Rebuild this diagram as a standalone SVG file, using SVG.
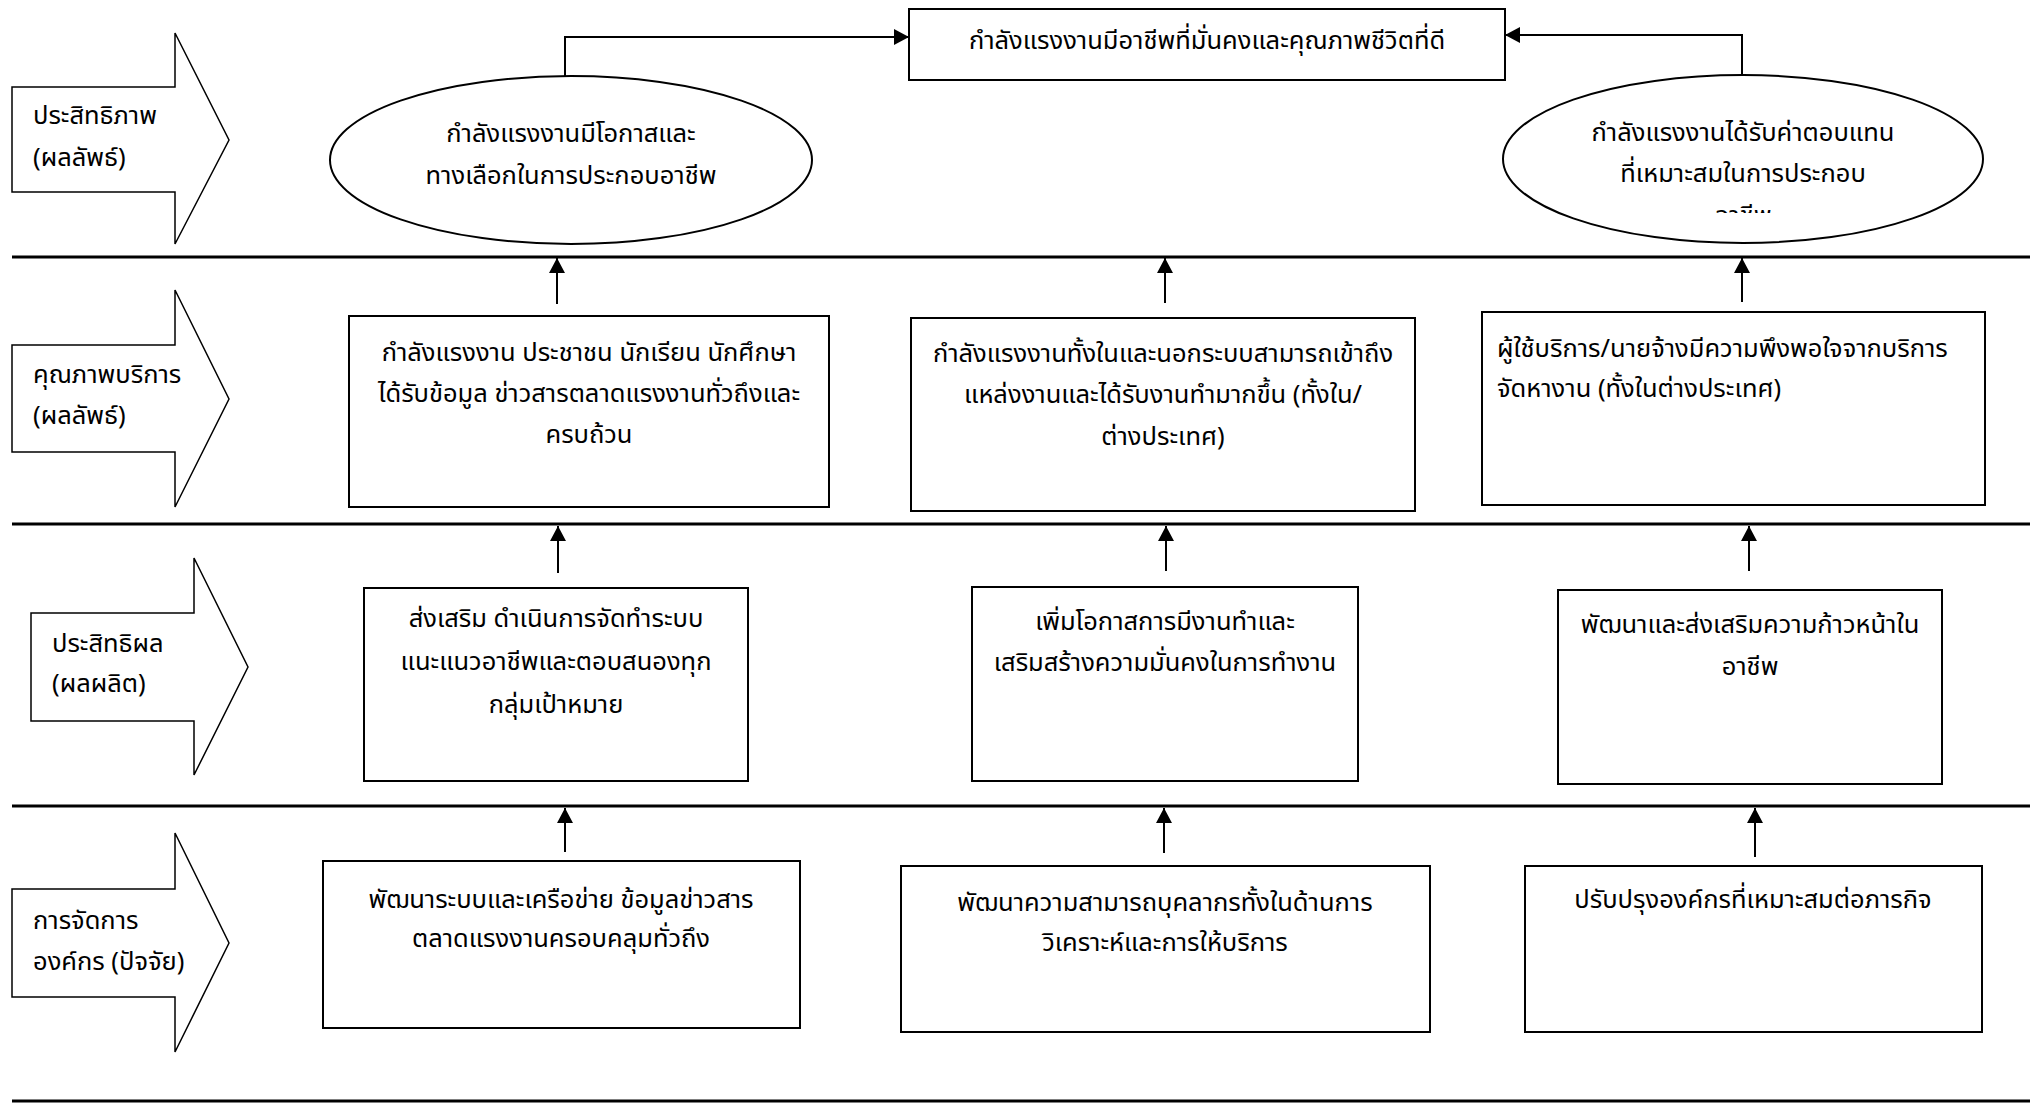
<svg xmlns="http://www.w3.org/2000/svg" width="2044" height="1104" viewBox="0 0 2044 1104">
<style>
  text { font-family: "Noto Sans Thai", "Noto Sans", "DejaVu Sans", sans-serif; font-size: 25.5px; fill: #000; }
  .c { text-anchor: middle; }
  .box { fill: #fff; stroke: #000; stroke-width: 2; }
  .blk { fill: #fff; stroke: #000; stroke-width: 1.5; }
  .sep { stroke: #000; stroke-width: 3; fill: none; }
  .con { stroke: #000; stroke-width: 2; fill: none; }
</style>
<defs>
  <marker id="ah" markerWidth="16" markerHeight="16" refX="15" refY="8" orient="auto" markerUnits="userSpaceOnUse">
    <path d="M0,0 L15,8 L0,16 z" fill="#000"/>
  </marker>
  <clipPath id="cut"><rect x="1680" y="195" width="130" height="18"/></clipPath>
</defs>
<rect width="2044" height="1104" fill="#fff"/>

<g id="separators">
  <line class="sep" x1="12" y1="257" x2="2030" y2="257"/>
  <line class="sep" x1="12" y1="524" x2="2030" y2="524"/>
  <line class="sep" x1="12" y1="806" x2="2030" y2="806"/>
  <line class="sep" x1="12" y1="1101" x2="2030" y2="1101"/>
</g>

<g id="label-efficiency">
  <path class="blk" d="M12,87 L175,87 L175,33 L229,140 L175,244 L175,192 L12,192 Z"/>
  <text x="33" y="124">ประสิทธิภาพ</text>
  <text x="33" y="166">(ผลลัพธ์)</text>
</g>
<g id="label-quality">
  <path class="blk" d="M12,345 L175,345 L175,290 L229,399 L175,507 L175,452 L12,452 Z"/>
  <text x="33" y="383">คุณภาพบริการ</text>
  <text x="33" y="424">(ผลลัพธ์)</text>
</g>
<g id="label-effectiveness">
  <path class="blk" d="M31,613 L194,613 L194,558 L248,667 L194,775 L194,721 L31,721 Z"/>
  <text x="52" y="652">ประสิทธิผล</text>
  <text x="52" y="692">(ผลผลิต)</text>
</g>
<g id="label-management">
  <path class="blk" d="M12,889 L175,889 L175,833 L229,943 L175,1052 L175,997 L12,997 Z"/>
  <text x="33" y="929">การจัดการ</text>
  <text x="33" y="970">องค์กร (ปัจจัย)</text>
</g>

<g id="goal">
  <rect class="box" x="909" y="9" width="596" height="71"/>
  <text class="c" x="1207" y="49">กำลังแรงงานมีอาชีพที่มั่นคงและคุณภาพชีวิตที่ดี</text>
</g>
<g id="outcome-opportunity">
  <ellipse class="box" cx="571" cy="160" rx="241" ry="84"/>
  <text class="c" x="571" y="142">กำลังแรงงานมีโอกาสและ</text>
  <text class="c" x="571" y="184">ทางเลือกในการประกอบอาชีพ</text>
</g>
<g id="outcome-compensation">
  <ellipse class="box" cx="1743" cy="159" rx="240" ry="84"/>
  <text class="c" x="1743" y="141">กำลังแรงงานได้รับค่าตอบแทน</text>
  <text class="c" x="1743" y="182">ที่เหมาะสมในการประกอบ</text>
  <text class="c" x="1743" y="224" clip-path="url(#cut)">อาชีพ</text>
</g>

<g id="quality-info">
  <rect class="box" x="349" y="316" width="480" height="191"/>
  <text class="c" x="589" y="361">กำลังแรงงาน ประชาชน นักเรียน นักศึกษา</text>
  <text class="c" x="589" y="402">ได้รับข้อมูล ข่าวสารตลาดแรงงานทั่วถึงและ</text>
  <text class="c" x="589" y="443">ครบถ้วน</text>
</g>
<g id="quality-access">
  <rect class="box" x="911" y="318" width="504" height="193"/>
  <text class="c" x="1163" y="362">กำลังแรงงานทั้งในและนอกระบบสามารถเข้าถึง</text>
  <text class="c" x="1163" y="403">แหล่งงานและได้รับงานทำมากขึ้น (ทั้งใน/</text>
  <text class="c" x="1163" y="445">ต่างประเทศ)</text>
</g>
<g id="quality-satisfaction">
  <rect class="box" x="1482" y="312" width="503" height="193"/>
  <text x="1497" y="357">ผู้ใช้บริการ/นายจ้างมีความพึงพอใจจากบริการ</text>
  <text x="1497" y="397">จัดหางาน (ทั้งในต่างประเทศ)</text>
</g>

<g id="output-guidance">
  <rect class="box" x="364" y="588" width="384" height="193"/>
  <text class="c" x="556" y="627">ส่งเสริม  ดำเนินการจัดทำระบบ</text>
  <text class="c" x="556" y="670">แนะแนวอาชีพและตอบสนองทุก</text>
  <text class="c" x="556" y="713">กลุ่มเป้าหมาย</text>
</g>
<g id="output-employment">
  <rect class="box" x="972" y="587" width="386" height="194"/>
  <text class="c" x="1165" y="630">เพิ่มโอกาสการมีงานทำและ</text>
  <text class="c" x="1165" y="671">เสริมสร้างความมั่นคงในการทำงาน</text>
</g>
<g id="output-career">
  <rect class="box" x="1558" y="590" width="384" height="194"/>
  <text class="c" x="1750" y="633">พัฒนาและส่งเสริมความก้าวหน้าใน</text>
  <text class="c" x="1750" y="675">อาชีพ</text>
</g>

<g id="factor-network">
  <rect class="box" x="323" y="861" width="477" height="167"/>
  <text class="c" x="561" y="908">พัฒนาระบบและเครือข่าย  ข้อมูลข่าวสาร</text>
  <text class="c" x="561" y="947">ตลาดแรงงานครอบคลุมทั่วถึง</text>
</g>
<g id="factor-personnel">
  <rect class="box" x="901" y="866" width="529" height="166"/>
  <text class="c" x="1165" y="911">พัฒนาความสามารถบุคลากรทั้งในด้านการ</text>
  <text class="c" x="1165" y="951">วิเคราะห์และการให้บริการ</text>
</g>
<g id="factor-organization">
  <rect class="box" x="1525" y="866" width="457" height="166"/>
  <text class="c" x="1753" y="908">ปรับปรุงองค์กรที่เหมาะสมต่อภารกิจ</text>
</g>

<g id="connectors">
  <polyline class="con" points="565,76 565,37 909,37" marker-end="url(#ah)"/>
  <polyline class="con" points="1742,75 1742,35 1505,35" marker-end="url(#ah)"/>
  <line class="con" x1="557" y1="304" x2="557" y2="258" marker-end="url(#ah)"/>
  <line class="con" x1="1165" y1="303" x2="1165" y2="258" marker-end="url(#ah)"/>
  <line class="con" x1="1742" y1="302" x2="1742" y2="258" marker-end="url(#ah)"/>
  <line class="con" x1="558" y1="573" x2="558" y2="526" marker-end="url(#ah)"/>
  <line class="con" x1="1166" y1="571" x2="1166" y2="526" marker-end="url(#ah)"/>
  <line class="con" x1="1749" y1="571" x2="1749" y2="526" marker-end="url(#ah)"/>
  <line class="con" x1="565" y1="852" x2="565" y2="808" marker-end="url(#ah)"/>
  <line class="con" x1="1164" y1="853" x2="1164" y2="808" marker-end="url(#ah)"/>
  <line class="con" x1="1755" y1="857" x2="1755" y2="808" marker-end="url(#ah)"/>
</g>
</svg>
